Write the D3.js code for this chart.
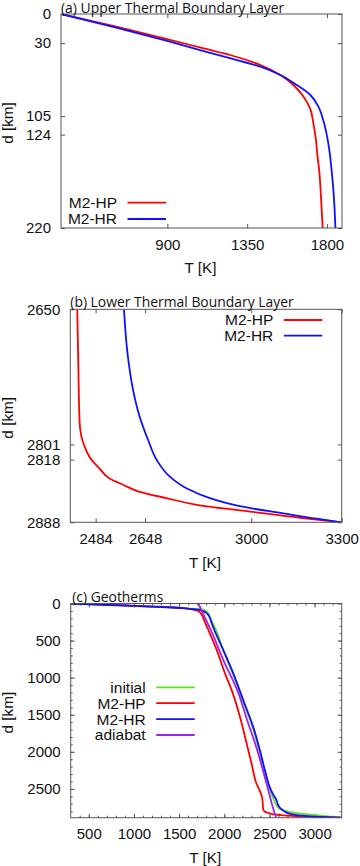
<!DOCTYPE html>
<html>
<head>
<meta charset="utf-8">
<script src="https://cdn.jsdelivr.net/npm/d3@7"></script>
<style>
  body { margin: 0; background: #fff; }
  text { font-family: "Liberation Sans", Arial, sans-serif; fill: #111; }
  .ttl { font-family: "Open Sans", sans-serif; }
</style>
</head>
<body>
<script>
// data: [T in K, depth in km]
var upperHP = [[300,0],[600,12.5],[904,26],[1100,35.2],[1258,42.4],[1425,52.4],[1537,62.7],[1611,73],[1668,85],[1705,97],[1723,112],[1738,129.5],[1747,146.6],[1756,160],[1764,180],[1770,200],[1776,220]];
var upperHR = [[300,0],[600,13.5],[904,28],[1100,37.9],[1258,45.6],[1425,54.2],[1537,62.7],[1630,73],[1705,83],[1751,95],[1779,109],[1801,126],[1816,143],[1826,160],[1836,180],[1843,200],[1848,220]];
var lowerHP = [[2423,2650],[2427,2720],[2431,2777],[2447,2803],[2470,2818],[2497,2828],[2530,2839],[2575,2846],[2630,2854],[2719,2861],[2829,2869],[2996,2876],[3162,2883],[3300,2888]];
var lowerHR = [[2578,2650],[2591,2703],[2608,2740],[2630,2770],[2658,2796],[2686,2818],[2730,2837],[2785,2850],[2863,2861],[2962,2870],[3106,2878],[3217,2884],[3300,2888]];
var midHP = [[1824,357],[1917,629],[2009,945],[2083,1172],[2175,1534],[2249,1895],[2304,2167],[2360,2439],[2396,2530],[2415,2600]];
var midHR = [[1890,357],[1990,629],[2101,945],[2212,1308],[2322,1670],[2396,1986],[2452,2258],[2507,2485],[2535,2560]];
var initialGeo = [[300,0],[900,28],[1300,45],[1550,62],[1700,74],[1770,85],[1810,115],[1840,180],[1870,260],[1910,360],[1990,640],[2095,950],[2205,1310],[2315,1670],[2388,1985],[2445,2260],[2500,2485],[2550,2650],[2590,2740],[2640,2785],[2720,2808],[2850,2832],[3000,2852],[3150,2870],[3300,2888]];
var adiabat = [[1713,0],[1790,200],[1850,357],[2000,790],[2145,1172],[2250,1560],[2367,1986],[2430,2258],[2490,2530],[2551,2801],[2575,2888]];

// ticks
var ticksA_T = [900, 1350, 1800];
var ticksA_d = [0, 30, 105, 124, 220];
var ticksB_T = [2484, 2648, 3000, 3300];
var ticksB_d = [2650, 2801, 2818, 2888];
var ticksC_T = [500, 1000, 1500, 2000, 2500, 3000];
var ticksC_d = [0, 500, 1000, 1500, 2000, 2500];

var RED = '#ff0000', BLUE = '#1010ff', GREEN = '#5fe41c', PURPLE = '#a020f0';

var svg = d3.select("body")
    .append("svg")
    .attr("width", 360)
    .attr("height", 866)
    .style('display', 'block');

var clipId = 0;

function panel(p) {
    var x = d3.scaleLinear().domain(p.xDomain).range([0, p.w]);
    var y = d3.scaleLinear().domain(p.yDomain).range([0, p.h]);
    var g = svg.append('g').attr('transform', 'translate(' + p.left + ',' + p.top + ')');

    // minor ticks (only panel c)
    if (p.minorX) {
        g.append('g').attr('transform', 'translate(0,' + p.h + ')')
            .call(d3.axisBottom(x).tickValues(p.minorX).tickSize(-2).tickFormat(''));
        g.append('g').call(d3.axisTop(x).tickValues(p.minorX).tickSize(-2).tickFormat(''));
        g.append('g').call(d3.axisLeft(y).tickValues(p.minorY).tickSize(-2).tickFormat(''));
        g.append('g').attr('transform', 'translate(' + p.w + ',0)')
            .call(d3.axisRight(y).tickValues(p.minorY).tickSize(-2).tickFormat(''));
    }

    // major ticks, mirrored on top / right
    g.append('g').attr('transform', 'translate(0,' + p.h + ')')
        .call(d3.axisBottom(x).tickValues(p.xTicks).tickSize(-4).tickPadding(11).tickFormat(d3.format('d')));
    g.append('g').call(d3.axisTop(x).tickValues(p.xTicks).tickSize(-4).tickFormat(''));
    g.append('g')
        .call(d3.axisLeft(y).tickValues(p.yTicks).tickSize(-4).tickPadding(10).tickFormat(d3.format('d')));
    g.append('g').attr('transform', 'translate(' + p.w + ',0)')
        .call(d3.axisRight(y).tickValues(p.yTicks).tickSize(-4).tickFormat(''));

    g.selectAll('.domain').remove();
    g.selectAll('.tick line').attr('stroke', '#555');
    g.selectAll('.tick text')
        .style('font-family', '"Liberation Sans", Arial, sans-serif')
        .style('font-size', '15px')
        .attr('fill', '#111');

    // curves
    clipId++;
    g.append('clipPath').attr('id', 'clip' + clipId)
        .append('rect').attr('width', p.w).attr('height', p.h);
    var line = d3.line()
        .x(function (d) { return x(d[0]); })
        .y(function (d) { return y(d[1]); })
        .curve(d3.curveMonotoneY);
    g.append('g').attr('clip-path', 'url(#clip' + clipId + ')')
        .selectAll('path')
        .data(p.series)
        .enter()
        .append('path')
        .attr('d', function (s) { return line(s.values); })
        .attr('fill', 'none')
        .attr('stroke', function (s) { return s.color; })
        .attr('stroke-width', 1.8)
        .attr('stroke-linejoin', 'round');

    // frame
    g.append('rect')
        .attr('width', p.w)
        .attr('height', p.h)
        .attr('fill', 'none')
        .attr('stroke', '#555')
        .attr('stroke-width', 1);

    // title
    svg.append('text')
        .attr('class', 'ttl')
        .attr('x', p.left + p.titleDx)
        .attr('y', Math.max(p.top - 2, 12.6))
        .style('font-size', '13.9px')
        .text(p.title);

    // axis labels
    svg.append('text')
        .attr('x', p.left + p.w / 2 - 1)
        .attr('y', p.top + p.h + 40)
        .attr('dy', '0.35em')
        .attr('text-anchor', 'middle')
        .style('font-size', '15.3px')
        .text('T [K]');
    svg.append('text')
        .attr('transform', 'translate(12.5,' + (p.top + p.h / 2 + 2) + ') rotate(-90)')
        .attr('text-anchor', 'middle')
        .style('font-size', '15.3px')
        .text('d [km]');

    // legend
    var leg = svg.append('g');
    p.series.forEach(function (s, i) {
        var ly = p.legY + i * p.legStep;
        leg.append('text')
            .attr('x', p.legX)
            .attr('y', ly)
            .attr('dy', '0.35em')
            .attr('text-anchor', 'end')
            .style('font-size', '15.5px')
            .text(s.label);
        leg.append('line')
            .attr('x1', p.legX + 10.5)
            .attr('x2', p.legX + 49)
            .attr('y1', ly)
            .attr('y2', ly)
            .attr('stroke', s.color)
            .attr('stroke-width', 1.8);
    });
}

// (a) upper boundary layer
panel({
    left: 61, top: 14, w: 281, h: 214,
    xDomain: [300, 1885], yDomain: [0, 220],
    xTicks: ticksA_T, yTicks: ticksA_d,
    title: '(a) Upper Thermal Boundary Layer', titleDx: 0,
    legX: 117, legY: 202.7, legStep: 16.3,
    series: [
        {label: 'M2-HP', color: RED, values: upperHP},
        {label: 'M2-HR', color: BLUE, values: upperHR}
    ]
});

// (b) lower boundary layer
panel({
    left: 70.3, top: 309.3, w: 271.4, h: 213,
    xDomain: [2400, 3300], yDomain: [2650, 2888],
    xTicks: ticksB_T, yTicks: ticksB_d,
    title: '(b) Lower Thermal Boundary Layer', titleDx: 0,
    legX: 273.3, legY: 320, legStep: 15.7,
    series: [
        {label: 'M2-HP', color: RED, values: lowerHP},
        {label: 'M2-HR', color: BLUE, values: lowerHR}
    ]
});

// (c) full geotherms
panel({
    left: 70.7, top: 603.5, w: 271, h: 214.2,
    xDomain: [300, 3300], yDomain: [0, 2888],
    xTicks: ticksC_T, yTicks: ticksC_d,
    minorX: d3.range(400, 3300, 100), minorY: d3.range(100, 2888, 100),
    title: '(c) Geotherms', titleDx: 1.5,
    legX: 145.7, legY: 687.3, legStep: 15.9,
    series: [
        {label: 'initial', color: GREEN, values: initialGeo},
        {label: 'M2-HP', color: RED, values: upperHP.concat(midHP, lowerHP)},
        {label: 'M2-HR', color: BLUE, values: upperHR.concat(midHR, lowerHR)},
        {label: 'adiabat', color: PURPLE, values: adiabat}
    ]
});
</script>
</body>
</html>
